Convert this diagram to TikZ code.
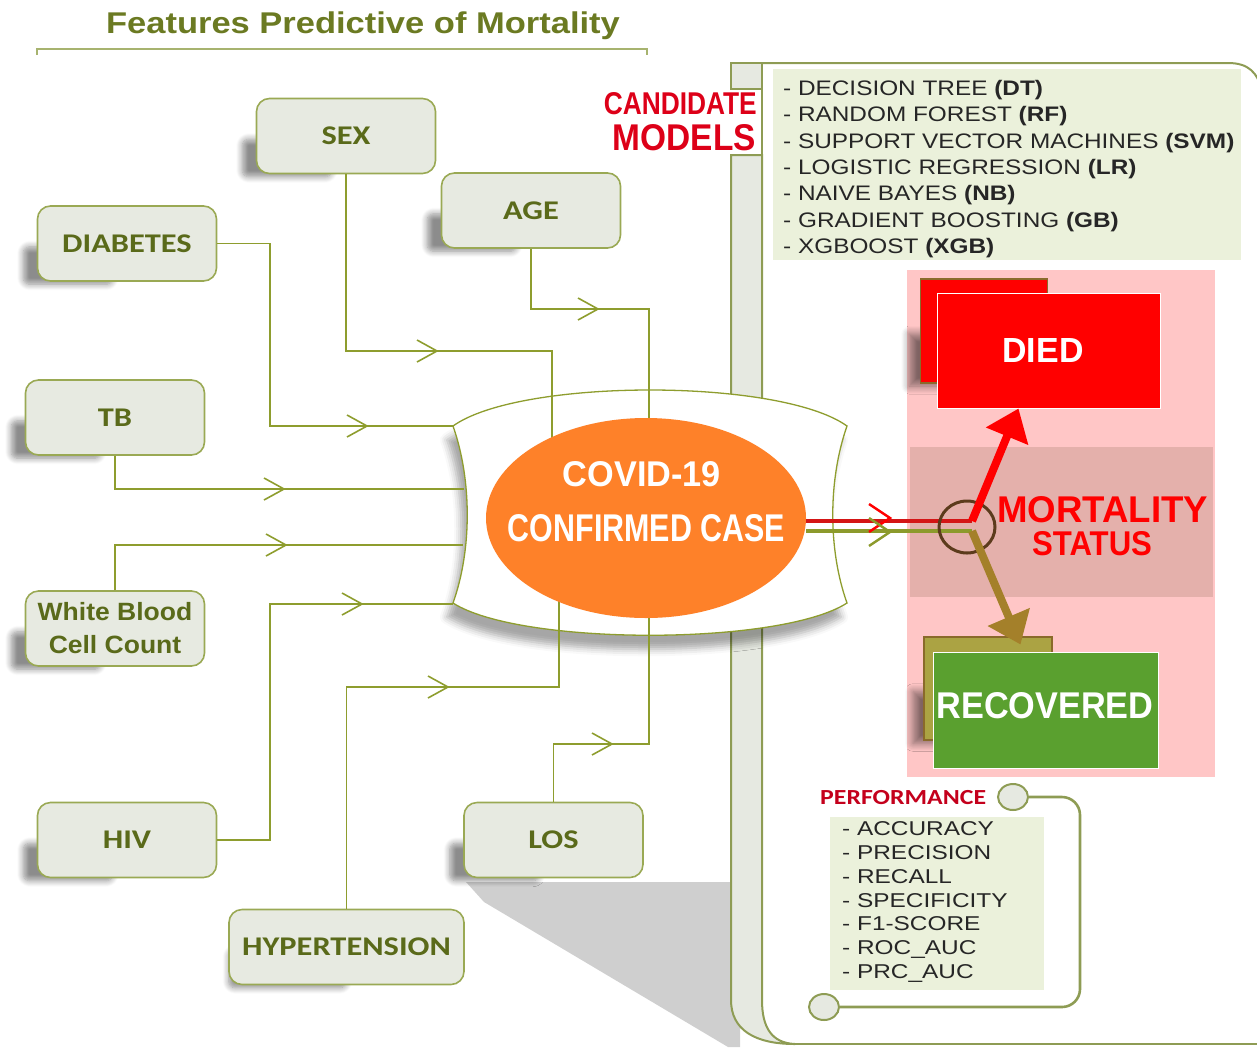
\documentclass[tikz,border=0pt]{standalone}
\usepackage{fontspec}
\usepackage{graphicx}
\setmainfont{Liberation Sans}
\newfontfamily\featfont[FakeStretch=1.2]{Carlito}
\newfontfamily\titlefont[FakeStretch=1.15]{Liberation Sans}
\newfontfamily\wbcfont[FakeStretch=1.06]{Liberation Sans}
\newfontfamily\modfont[FakeStretch=1.16]{Liberation Sans}
\newfontfamily\perflistfont[FakeStretch=1.22]{Liberation Sans}
\usetikzlibrary{shapes.geometric,arrows.meta,shadows.blur}

\definecolor{titlec}{HTML}{6B7A22}
\definecolor{labelc}{HTML}{5A6A1A}
\definecolor{boxfill}{HTML}{E7EAE1}
\definecolor{boxdraw}{HTML}{9AA954}
\definecolor{linec}{HTML}{8E9D2E}
\definecolor{bracketc}{HTML}{A7B36F}
\definecolor{orangec}{HTML}{FE8129}
\definecolor{pinkc}{HTML}{FFC6C6}
\definecolor{bandc}{HTML}{E4B0AB}
\definecolor{greenc}{HTML}{5AA02F}
\definecolor{oliveback}{HTML}{ABA343}
\definecolor{backdraw}{HTML}{8A6A2A}
\definecolor{brownarrow}{HTML}{A4802A}
\definecolor{ringc}{HTML}{5C3B1C}
\definecolor{panelc}{HTML}{8E9C54}
\definecolor{barfill}{HTML}{E6E9E1}
\definecolor{modfill}{HTML}{EBF1DB}
\definecolor{candred}{HTML}{DD0018}
\definecolor{perfred}{HTML}{C4001C}
\definecolor{redline}{HTML}{D41515}
\definecolor{oliveline}{HTML}{8C9A2C}
\definecolor{textdark}{HTML}{262626}

\tikzset{
  fbox/.style={rounded corners=13pt, draw=boxdraw, line width=1.6pt, fill=boxfill,
    minimum width=179pt, minimum height=75pt, inner sep=0pt, text=labelc,
    font={\featfont\bfseries\fontsize{27}{30}\selectfont},
    blur shadow={shadow scale=0.5, shadow xshift=-118pt, shadow yshift=-44pt, shadow blur radius=12pt, shadow blur steps=8, shadow opacity=45}},
  conn/.style={draw=linec, line width=1.6pt},
  chev/.pic={\draw[conn] (-20,-11) -- (0,0) -- (-20,11);},
  chevR/.pic={\draw[line width=2.4pt, draw=red] (-21,-14) -- (0,0) -- (-21,14);},
  chevO/.pic={\draw[line width=2.4pt, draw=oliveline] (-21,-14) -- (0,0) -- (-21,14);},
  panel/.style={draw=panelc, line width=2pt},
  modtext/.style={anchor=base west, inner sep=0pt, text=textdark, font={\modfont\fontsize{21}{24}\selectfont}},
  perftext/.style={anchor=base west, inner sep=0pt, text=textdark, font={\perflistfont\fontsize{20}{23}\selectfont}},
  bigtxt/.style={inner sep=0pt, font=\bfseries},
  backshadow/.style={blur shadow={shadow scale=0.5, shadow xshift=-86pt, shadow yshift=-58pt, shadow blur radius=16pt, shadow blur steps=8, shadow opacity=50}},
}

\begin{document}
\begin{tikzpicture}[x=1pt,y=-1pt]
\useasboundingbox (0,0) rectangle (1257,1047);

% big diagonal shadow
\fill[black!19] (466,882) -- (740,882) -- (740,1047) -- (728,1047) -- (484,902) -- cycle;

% title
\node[anchor=base, text=titlec, inner sep=0pt, font={\titlefont\bfseries\fontsize{30}{34}\selectfont}] (title) at (363,33) {Features Predictive of Mortality};
\draw[draw=bracketc, line width=1.6pt] (37,55) -- (37,49) -- (647,49) -- (647,55);

% right panel (scroll)
\path[panel, fill=barfill] (731,155) -- (762,155) -- (762,1000) .. controls (762,1028) and (772,1043) .. (795,1044) .. controls (755,1044) and (731,1030) .. (731,1000) -- cycle;
\path[panel, fill=barfill] (731,63) rectangle (762,89);
\draw[panel] (762,63) -- (762,155);
\draw[panel] (762,63) -- (1228,63) .. controls (1248,63) and (1258,72) .. (1262,92);
\draw[panel] (795,1044) -- (1270,1044);

% candidate models
\node[fill=modfill, minimum width=468pt, minimum height=191pt, anchor=north west, inner sep=0pt] (modbox) at (773,69) {};
\node[anchor=east, text=candred, bigtxt] (cand) at (757,104) {\resizebox{153pt}{22pt}{\bfseries CANDIDATE}};
\node[anchor=east, text=candred, bigtxt] (modl) at (756,137.5) {\resizebox{143pt}{26pt}{\bfseries MODELS}};
\node[modtext] (m1) at (783,95.5) {- DECISION TREE \textbf{(DT)}};
\node[modtext] (m2) at (783,121.5) {- RANDOM FOREST \textbf{(RF)}};
\node[modtext] (m3) at (783,148) {- SUPPORT VECTOR MACHINES \textbf{(SVM)}};
\node[modtext] (m4) at (783,174.5) {- LOGISTIC REGRESSION \textbf{(LR)}};
\node[modtext] (m5) at (783,200.5) {- NAIVE BAYES \textbf{(NB)}};
\node[modtext] (m6) at (783,227) {- GRADIENT BOOSTING \textbf{(GB)}};
\node[modtext] (m7) at (783,253.5) {- XGBOOST \textbf{(XGB)}};

% mortality status region
\fill[pinkc] (907,270) rectangle (1215,777);
\fill[bandc] (910,447) rectangle (1213,597);

\node[draw=backdraw, line width=1.2pt, fill=red, minimum width=127pt, minimum height=104pt, inner sep=0pt, backshadow] (diedback) at (984,331) {};
\node[draw=white, line width=1pt, fill=red, minimum width=223pt, minimum height=115pt, inner sep=0pt] (died) at (1048.5,350.5) {};
\node[text=white, bigtxt] (diedtxt) at (1043,350) {\resizebox{81pt}{24pt}{\bfseries DIED}};

\node[draw=backdraw, line width=1.2pt, fill=oliveback, minimum width=128pt, minimum height=103pt, inner sep=0pt, backshadow] (recback) at (988,688.5) {};
\node[draw=white, line width=1pt, fill=greenc, minimum width=225pt, minimum height=116pt, inner sep=0pt] (recov) at (1045.5,710) {};
\node[text=white, bigtxt] (rectxt) at (1045,706) {\resizebox{217pt}{26pt}{\bfseries RECOVERED}};

% feature boxes
\node[fbox] (sex) at (346,136) {SEX};
\node[fbox] (age) at (531,210.5) {AGE};
\node[fbox] (dia) at (127,243.5) {DIABETES};
\node[fbox] (tb) at (115,417.5) {TB};
\node[fbox, font={\wbcfont\bfseries\fontsize{25}{33}\selectfont}, align=center] (wbc) at (115,628.5) {White Blood\\Cell Count};
\node[fbox] (hiv) at (127,840) {HIV};
\node[fbox] (los) at (553.5,840) {LOS};
\node[fbox, minimum width=235pt] (hyp) at (346.5,947) {HYPERTENSION};

% central shape
\path[draw=linec, line width=1.3pt, fill=white,
  blur shadow={shadow xshift=-6pt, shadow yshift=-14pt, shadow blur radius=7pt, shadow opacity=35}]
  (453,426) .. controls (520,378) and (780,378) .. (847,426)
  .. controls (828,480) and (828,550) .. (847,603)
  .. controls (780,646) and (520,646) .. (453,603)
  .. controls (472,550) and (472,480) .. (453,426) -- cycle;

\coordinate (inDia) at (453,426);
\coordinate (inTB) at (464,489);
\coordinate (inWBC) at (463,545);
\coordinate (inHIV) at (453,604);
\coordinate (inSex) at (552,480);
\coordinate (inAge) at (649,480);
\coordinate (inHyp) at (559,560);
\coordinate (inLos) at (649,560);

% connectors
\draw[conn] (sex.south) |- (552,351) -- (inSex);
\draw[conn] (age.south) |- (649,309) -- (inAge);
\draw[conn] (dia.east) -| (270,426) -- (inDia);
\draw[conn] (tb.south) |- (inTB);
\draw[conn] (wbc.north) |- (inWBC);
\draw[conn] (hiv.east) -| (270,604) -- (inHIV);
\draw[conn] (hyp.north) |- (559,687) -- (inHyp);
\draw[conn] (los.north) |- (649,744) -- (inLos);
\pic at (437,351) {chev};
\pic at (598,309) {chev};
\pic at (367,426) {chev};
\pic at (284,489) {chev};
\pic at (286,545) {chev};
\pic at (362,604) {chev};
\pic at (448,687) {chev};
\pic at (612,744) {chev};

% covid ellipse
\node[ellipse, fill=orangec, minimum width=320pt, minimum height=200pt, inner sep=0pt] (cc) at (646,518) {};
\node[text=white, bigtxt] (covid) at (642,474.5) {\resizebox{158pt}{25pt}{\bfseries COVID-19}};
\node[text=white, bigtxt] (conf) at (646.5,528.5) {\resizebox{277pt}{27pt}{\bfseries CONFIRMED CASE}};

% outputs
\coordinate (junR) at (972,521);
\coordinate (junO) at (972,531);
\draw[line width=3.5pt, draw=redline] ([yshift=-3pt]cc.east) -- (junR);
\draw[line width=3.5pt, draw=oliveline] ([yshift=-13pt]cc.east) -- (junO);
\pic at (890,518) {chevR};
\pic at (890,532) {chevO};
\node[ellipse, draw=ringc, line width=3pt, minimum width=56pt, minimum height=52pt, inner sep=0pt] (ring) at (967,527) {};
\draw[line width=8pt, draw=red, -{Triangle[length=30pt,width=44pt]}] (junR) -- ([xshift=-30pt]died.south);
\draw[line width=8pt, draw=brownarrow, -{Triangle[length=30pt,width=44pt]}] (junO) -- ([xshift=-25pt,yshift=7pt]recov.north);

\node[text=red, bigtxt] (mort) at (1102.5,509.5) {\resizebox{211pt}{26pt}{\bfseries MORTALITY}};
\node[text=red, bigtxt] (stat) at (1092,543.5) {\resizebox{120pt}{24pt}{\bfseries STATUS}};

% performance
\node[fill=modfill, minimum width=214pt, minimum height=173pt, anchor=north west, inner sep=0pt] (perfbox) at (830,817) {};
\node[anchor=base west, inner sep=0pt, text=perfred, font={\featfont\bfseries\fontsize{21.5}{24}\selectfont}] (perf) at (820,804) {PERFORMANCE};
\node[ellipse, panel, fill=barfill, minimum width=30pt, minimum height=26pt, inner sep=0pt] (e1) at (1013,797) {};
\node[ellipse, panel, fill=barfill, minimum width=30pt, minimum height=26pt, inner sep=0pt] (e2) at (824,1007) {};
\draw[panel, line width=2.6pt, rounded corners=18pt] (e1.east) -| (1080,1007) -- (e2.east);
\node[perftext] (p1) at (842,835) {- ACCURACY};
\node[perftext] (p2) at (842,859) {- PRECISION};
\node[perftext] (p3) at (842,883) {- RECALL};
\node[perftext] (p4) at (842,907) {- SPECIFICITY};
\node[perftext] (p5) at (842,930) {- F1-SCORE};
\node[perftext] (p6) at (842,954) {- ROC\_AUC};
\node[perftext] (p7) at (842,978) {- PRC\_AUC};
\end{tikzpicture}
\end{document}
